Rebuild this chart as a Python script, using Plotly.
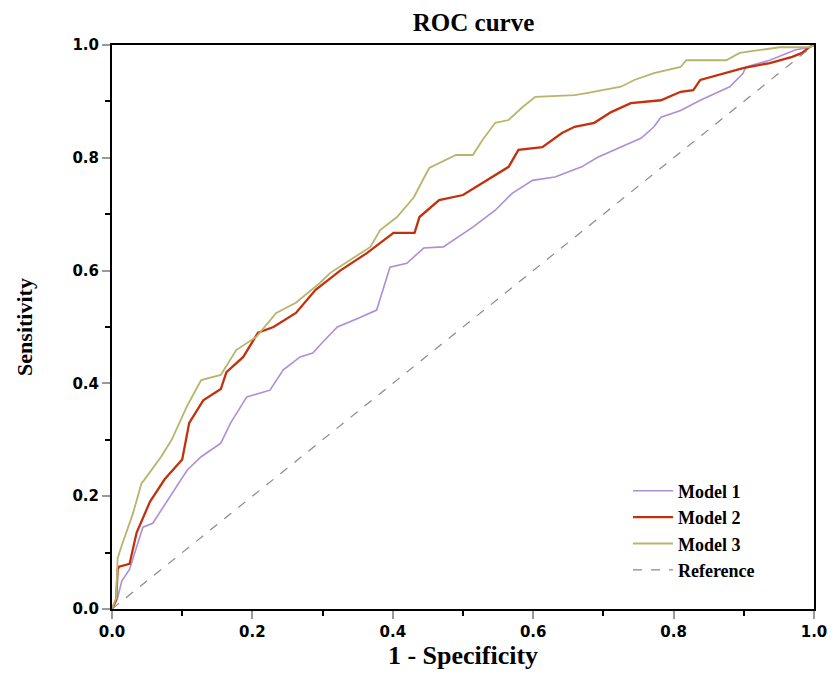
import plotly.graph_objects as go

# Model 1 (purple)
m1_fpr = [0.0, 0.008, 0.014, 0.025, 0.035, 0.044, 0.058, 0.075, 0.092, 0.107, 0.127, 0.155, 0.169, 0.183,
          0.192, 0.225, 0.244, 0.268, 0.286, 0.300, 0.321, 0.350, 0.377, 0.396, 0.420, 0.444, 0.472, 0.514,
          0.546, 0.570, 0.599, 0.631, 0.669, 0.692, 0.725, 0.754, 0.772, 0.782, 0.810, 0.838, 0.880, 0.899,
          0.903, 0.937, 0.973, 0.993, 1.0]
m1_tpr = [0.0, 0.02, 0.05, 0.07, 0.11, 0.145, 0.152, 0.185, 0.217, 0.246, 0.270, 0.294, 0.330, 0.358,
          0.376, 0.388, 0.424, 0.447, 0.454, 0.473, 0.500, 0.515, 0.530, 0.606, 0.613, 0.640, 0.642, 0.677,
          0.707, 0.737, 0.760, 0.766, 0.784, 0.801, 0.819, 0.835, 0.855, 0.872, 0.884, 0.902, 0.926, 0.950,
          0.961, 0.973, 0.991, 0.996, 1.0]

# Model 2 (red)
m2_fpr = [0.0, 0.006, 0.008, 0.010, 0.025, 0.035, 0.054, 0.075, 0.100, 0.110, 0.130, 0.155, 0.163, 0.187,
          0.208, 0.230, 0.262, 0.290, 0.325, 0.363, 0.401, 0.431, 0.438, 0.466, 0.500, 0.528, 0.565, 0.579,
          0.613, 0.641, 0.659, 0.687, 0.711, 0.739, 0.782, 0.810, 0.828, 0.838, 0.880, 0.899, 0.937, 0.969,
          0.983, 0.993, 1.0]
m2_tpr = [0.0, 0.016, 0.07, 0.075, 0.08, 0.135, 0.19, 0.23, 0.265, 0.33, 0.37, 0.39, 0.42, 0.447,
          0.49, 0.50, 0.525, 0.566, 0.600, 0.631, 0.667, 0.667, 0.695, 0.725, 0.734, 0.755, 0.784, 0.814,
          0.819, 0.844, 0.855, 0.862, 0.881, 0.897, 0.902, 0.917, 0.920, 0.938, 0.952, 0.959, 0.968, 0.979,
          0.986, 0.996, 1.0]

# Model 3 (olive)
m3_fpr = [0.0, 0.006, 0.008, 0.014, 0.030, 0.042, 0.046, 0.070, 0.085, 0.107, 0.127, 0.155, 0.177, 0.206,
          0.234, 0.262, 0.296, 0.311, 0.368, 0.382, 0.406, 0.430, 0.448, 0.452, 0.490, 0.514, 0.528, 0.546,
          0.565, 0.585, 0.603, 0.659, 0.678, 0.725, 0.744, 0.772, 0.810, 0.818, 0.875, 0.894, 0.951, 0.993,
          1.0]
m3_tpr = [0.0, 0.02, 0.09, 0.113, 0.17, 0.223, 0.229, 0.27, 0.30, 0.36, 0.406, 0.415, 0.459, 0.483,
          0.525, 0.543, 0.578, 0.596, 0.642, 0.672, 0.695, 0.730, 0.773, 0.782, 0.805, 0.805, 0.832, 0.862,
          0.867, 0.890, 0.908, 0.911, 0.915, 0.926, 0.938, 0.950, 0.961, 0.973, 0.973, 0.986, 0.996, 0.996,
          1.0]

ref_x = [0.0, 1.0]
ref_y = [0.0, 1.0]

tick_vals = [0.0, 0.2, 0.4, 0.6, 0.8, 1.0]
tick_text = ["0.0", "0.2", "0.4", "0.6", "0.8", "1.0"]

fig = go.Figure()
fig.add_trace(go.Scatter(x=m1_fpr, y=m1_tpr, mode="lines", name="Model 1",
                         line=dict(color="#ab8fd8", width=1.6)))
fig.add_trace(go.Scatter(x=m2_fpr, y=m2_tpr, mode="lines", name="Model 2",
                         line=dict(color="#c4300c", width=2.3)))
fig.add_trace(go.Scatter(x=m3_fpr, y=m3_tpr, mode="lines", name="Model 3",
                         line=dict(color="#b9b46c", width=1.8)))
fig.add_trace(go.Scatter(x=ref_x, y=ref_y, mode="lines", name="Reference",
                         line=dict(color="#8a8a8a", width=1.2, dash="dash")))

axis_common = dict(
    range=[0, 1], tickvals=tick_vals, ticktext=tick_text,
    showgrid=False, zeroline=False,
    showline=True, linecolor="black", linewidth=2, mirror=True,
    ticks="outside", ticklen=8, tickwidth=2, tickcolor="#999999",
    tickfont=dict(family="DejaVu Sans", size=15, color="black", weight="bold"),
    minor=dict(dtick=0.1, ticks="outside", ticklen=5, tickwidth=2, tickcolor="black", showgrid=False),
)

fig.update_layout(
    width=839, height=686,
    paper_bgcolor="white", plot_bgcolor="white",
    margin=dict(l=112, r=17, t=45, b=77),
    title=dict(text="<b>ROC curve</b>", xref="paper", x=0.515, xanchor="center",
               yref="container", y=0.968, yanchor="middle",
               font=dict(family="Liberation Serif", size=25, color="black")),
    xaxis=dict(**axis_common,
               title=dict(text="<b>1 - Specificity</b>", standoff=0,
                          font=dict(family="Liberation Serif", size=26, color="black"))),
    yaxis=dict(**axis_common,
               title=dict(text="<b>Sensitivity</b>", standoff=34,
                          font=dict(family="Liberation Serif", size=22, color="black"))),
    legend=dict(x=0.735, y=0.242, xanchor="left", yanchor="top",
                bgcolor="rgba(0,0,0,0)", tracegroupgap=0, itemwidth=40,
                font=dict(family="Liberation Serif", size=18, color="black", weight="bold")),
    showlegend=True,
)

fig.write_html(
    "out.html",
    config={"displayModeBar": False},
    post_script="document.body.style.margin='0';document.body.style.overflow='hidden';",
)
